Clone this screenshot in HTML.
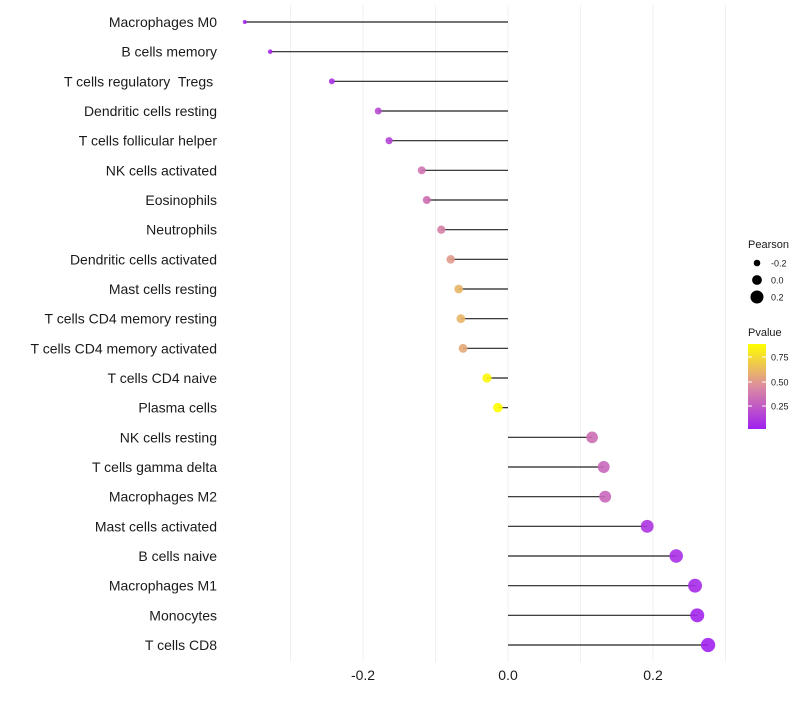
<!DOCTYPE html>
<html><head><meta charset="utf-8"><style>
body{margin:0;background:#fff;font-family:"Liberation Sans",sans-serif}
text{white-space:pre}
</style></head><body>
<svg id="c" width="800" height="700"></svg>
<script>
const categories=["Macrophages M0","B cells memory","T cells regulatory  Tregs ","Dendritic cells resting","T cells follicular helper","NK cells activated","Eosinophils","Neutrophils","Dendritic cells activated","Mast cells resting","T cells CD4 memory resting","T cells CD4 memory activated","T cells CD4 naive","Plasma cells","NK cells resting","T cells gamma delta","Macrophages M2","Mast cells activated","B cells naive","Macrophages M1","Monocytes","T cells CD8"];
const pearson=[-0.363,-0.328,-0.243,-0.179,-0.164,-0.119,-0.112,-0.092,-0.079,-0.068,-0.065,-0.062,-0.029,-0.014,0.116,0.132,0.134,0.192,0.232,0.258,0.261,0.276];
const pvalue=[0.03,0.04,0.08,0.18,0.15,0.35,0.33,0.4,0.5,0.6,0.6,0.55,0.85,0.88,0.33,0.3,0.3,0.1,0.07,0.05,0.03,0.02];
const xTicks=[-0.2,0.0,0.2];
const xTickLabels=["-0.2","0.0","0.2"];
const gridVals=[-0.3,-0.2,-0.1,0,0.1,0.2,0.3];
const NS="http://www.w3.org/2000/svg";
const svg=document.getElementById('c');
const x=v=>508+v*725;
const y=i=>22+i*(623/21);
const r=v=>2+(v+0.363)*8;
function lerp(a,b,t){return a.map((c,i)=>Math.round(c+(b[i]-c)*t));}
function col(p){const s=[[160,32,240],[220,140,160],[255,255,0]];
 let t=Math.max(0,Math.min(1,(p-0.01)/0.87));
 const c=t<0.5?lerp(s[0],s[1],t*2):lerp(s[1],s[2],(t-0.5)*2);return `rgb(${c})`;}
function mk(tag,attrs,parent){const e=document.createElementNS(NS,tag);for(const k in attrs)e.setAttribute(k,attrs[k]);(parent||svg).appendChild(e);return e;}
gridVals.forEach(g=>{const l=mk('line',{x1:x(g),x2:x(g),y1:5,y2:662,stroke:'#f0f0f0','stroke-width':1});

});
categories.forEach((c,i)=>{
 const t=mk('text',{x:217,y:y(i)+5,'text-anchor':'end','font-size':14,fill:'#1a1a1a'});t.textContent=c;
 
 
 const s=mk('line',{x1:x(0),x2:x(pearson[i]),y1:y(i),y2:y(i),stroke:'#222','stroke-width':1.2});
 
 
 const p=mk('circle',{cx:x(pearson[i]),cy:y(i),r:r(pearson[i]),fill:col(pvalue[i]),'fill-opacity':0.9});
 
 
});
xTicks.forEach((v,i)=>{const t=mk('text',{x:x(v),y:680,'text-anchor':'middle','font-size':14,fill:'#1a1a1a'});t.textContent=xTickLabels[i];
 
 });
const lg=mk('g',{});


mk('text',{x:748,y:248,'font-size':11,fill:'#1a1a1a'},lg).textContent='Pearson';
[-0.2,0,0.2].forEach((v,i)=>{const cy=263+i*17;mk('circle',{cx:757,cy:cy,r:r(v),fill:'#000'},lg);
 mk('text',{x:771,y:cy+3.5,'font-size':9,fill:'#1a1a1a'},lg).textContent=['-0.2','0.0','0.2'][i];});
mk('text',{x:748,y:336,'font-size':11,fill:'#1a1a1a'},lg).textContent='Pvalue';
const defs=mk('defs',{});const gr=mk('linearGradient',{id:'g',x1:0,y1:1,x2:0,y2:0},defs);
[[0,'rgb(160,32,240)'],[0.5,'rgb(220,140,160)'],[1,'rgb(255,255,0)']].forEach(s=>mk('stop',{offset:s[0],'stop-color':s[1]},gr));
mk('rect',{x:748,y:344,width:18,height:85,fill:'url(#g)'},lg);
[[0.75,357],[0.5,382],[0.25,406]].forEach(a=>{mk('line',{x1:748,x2:752,y1:a[1],y2:a[1],stroke:'#fff'},lg);mk('line',{x1:762,x2:766,y1:a[1],y2:a[1],stroke:'#fff'},lg);
 mk('text',{x:771,y:a[1]+3.5,'font-size':9,fill:'#1a1a1a'},lg).textContent=a[0].toFixed(2);});
</script>
</body></html>
